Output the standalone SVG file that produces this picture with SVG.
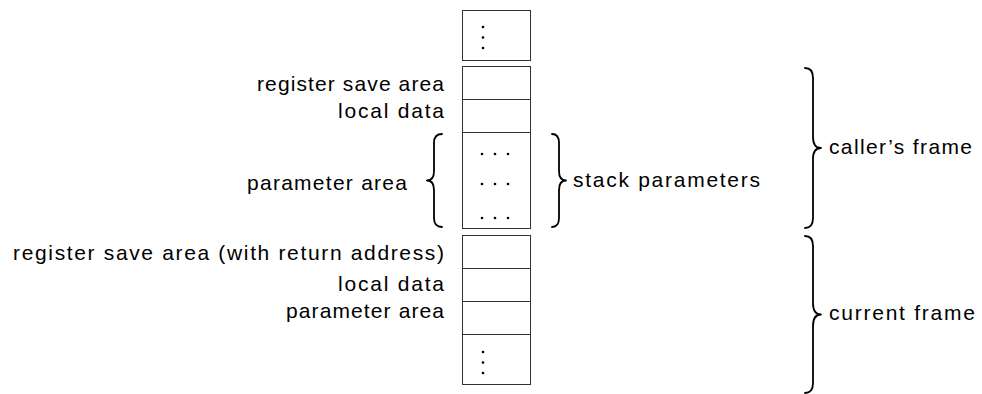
<svg xmlns="http://www.w3.org/2000/svg" width="982" height="394" viewBox="0 0 982 394">
<style>
text{font-family:"Liberation Sans",Arial,sans-serif;font-size:21px;fill:#000}
.l{text-anchor:end}
.box{fill:#fff;stroke:#333;stroke-width:1}
.br{fill:none;stroke:#000;stroke-width:1.8;stroke-linecap:round;stroke-linejoin:round}
.dot{fill:#000}
</style>
<defs>
<g id="vdots"><circle cx="0" cy="0" r="1.3" class="dot"/><circle cx="0" cy="10.5" r="1.3" class="dot"/><circle cx="0" cy="21" r="1.3" class="dot"/></g>
<g id="hdots"><circle cx="0" cy="0" r="1.3" class="dot"/><circle cx="13" cy="0" r="1.3" class="dot"/><circle cx="26" cy="0" r="1.3" class="dot"/></g>
</defs>
<g id="top-cont">
<rect class="box" x="462.5" y="10.5" width="68" height="50"/>
<use href="#vdots" x="483" y="27"/>
</g>
<g id="caller-rsa">
<rect class="box" x="462.5" y="66.5" width="68" height="33"/>
<text class="l" x="444" y="91" textLength="187" lengthAdjust="spacing">register save area</text>
</g>
<g id="caller-local">
<rect class="box" x="462.5" y="99.5" width="68" height="33"/>
<text class="l" x="444" y="118" textLength="106" lengthAdjust="spacing">local data</text>
</g>
<g id="caller-param">
<rect class="box" x="462.5" y="132.5" width="68" height="96"/>
<use href="#hdots" x="482" y="154"/>
<use href="#hdots" x="482" y="184"/>
<use href="#hdots" x="482" y="218"/>
<text class="l" x="407" y="190" textLength="160" lengthAdjust="spacing">parameter area</text>
</g>
<g id="cur-rsa">
<rect class="box" x="462.5" y="235.5" width="68" height="33"/>
<text class="l" x="444" y="260" textLength="431" lengthAdjust="spacing">register save area (with return address)</text>
</g>
<g id="cur-local">
<rect class="box" x="462.5" y="268.5" width="68" height="33"/>
<text class="l" x="444" y="291" textLength="106" lengthAdjust="spacing">local data</text>
</g>
<g id="cur-param">
<rect class="box" x="462.5" y="301.5" width="68" height="33"/>
<text class="l" x="444" y="318" textLength="158" lengthAdjust="spacing">parameter area</text>
</g>
<g id="bottom-cont">
<rect class="box" x="462.5" y="334.5" width="68" height="50"/>
<use href="#vdots" x="483" y="352"/>
</g>
<g id="connectors">
<path class="br" d="M442,134 Q434,134 434,143 L434,171 Q434,180.5 427,180.5 Q434,180.5 434,190 L434,218 Q434,227 442,227"/>
<path class="br" d="M552,134 Q559,134 559,143 L559,171 Q559,180.5 566,180.5 Q559,180.5 559,190 L559,218 Q559,227 552,227"/>
<path class="br" d="M805,68 Q813,68 813,78 L813,137 Q813,148 821,148 Q813,148 813,159 L813,218 Q813,228 805,228"/>
<path class="br" d="M805,236 Q813,236 813,246 L813,303 Q813,314.5 821,314.5 Q813,314.5 813,326 L813,383 Q813,393 805,393"/>
</g>
<g id="stack-params"><text x="573" y="187" textLength="187" lengthAdjust="spacing">stack parameters</text></g>
<g id="callers-frame"><text x="829" y="154" textLength="143" lengthAdjust="spacing">caller’s frame</text></g>
<g id="current-frame"><text x="829" y="320" textLength="146" lengthAdjust="spacing">current frame</text></g>
</svg>
